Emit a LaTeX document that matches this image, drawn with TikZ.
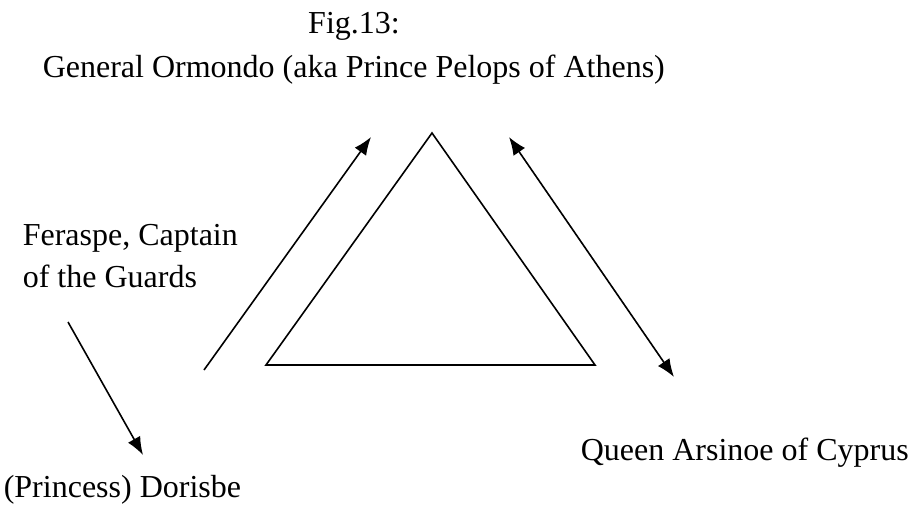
\documentclass[tikz,border=0pt]{standalone}
\usepackage{fontspec}
\setmainfont{Liberation Serif}
\usetikzlibrary{arrows.meta}

\begin{document}
\begin{tikzpicture}[x=1pt,y=-1pt,line width=1.6pt,
  lbl/.style={inner sep=0pt,font=\fontsize{32}{38}\selectfont},
  tip/.style={>={Latex[length=18pt,width=14pt]}}]
\useasboundingbox (0,0) rectangle (914,504);
\node[lbl,anchor=base] (fig)at(354,33){Fig.13:};
\node[lbl,anchor=base west] (orm)at(42,77){General Ormondo (aka Prince Pelops of Athens)};
\node[lbl,anchor=base west] (fer)at(22,245){Feraspe, Captain};
\node[lbl,anchor=base west] (grd)at(22,287){of the Guards};
\node[lbl,anchor=base west] (dor)at(3,497){(Princess) Dorisbe};
\node[lbl,anchor=base west] (ars)at(580,460){Queen Arsinoe of Cyprus};
\coordinate (top)at(432,133);
\coordinate (bl)at(266,365);
\coordinate (br)at(595,365);
\draw (top) -- (bl) -- (br) -- cycle;
\coordinate (a1)at(204,370);
\coordinate (a2)at(371,137);
\coordinate (b1)at(509,137);
\coordinate (b2)at(674,377);
\coordinate (c1)at(68,322);
\coordinate (c2)at(143,455);
\draw[tip,->] (a1) to (a2);
\draw[tip,<->] (b1) to (b2);
\draw[tip,->] (c1) to (c2);
\end{tikzpicture}
\end{document}
